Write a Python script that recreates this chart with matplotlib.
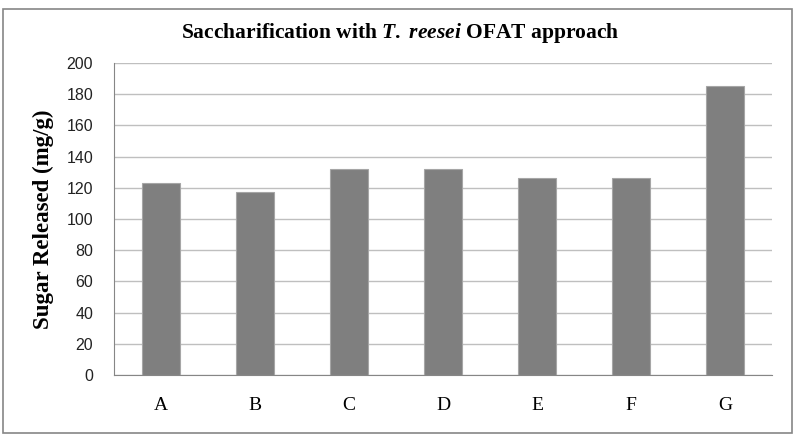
import matplotlib.pyplot as plt
from matplotlib.patches import Rectangle

plt.rcParams['mathtext.fontset'] = 'custom'
plt.rcParams['mathtext.it'] = 'Liberation Serif:italic:bold'
plt.rcParams['mathtext.rm'] = 'Liberation Serif:bold'

# Sugar released per condition (mg/g)
categories = ['A', 'B', 'C', 'D', 'E', 'F', 'G']
sugar = [123, 117, 132, 132, 126, 126, 185]
yticks = [0, 20, 40, 60, 80, 100, 120, 140, 160, 180, 200]

fig = plt.figure(figsize=(8, 4.43), dpi=100)
ax = fig.add_axes([0.1425, 0.1535, 0.8225, 0.7043])

ax.bar(categories, sugar, width=0.4, color='#7f7f7f', edgecolor='#a6a6a6',
       linewidth=0.8, zorder=3)

ax.set_ylim(0, 200)
ax.set_xlim(-0.5, len(categories) - 0.5)
ax.set_yticks(yticks)
ax.yaxis.grid(True, color='#bfbfbf', linewidth=1, zorder=0)
ax.tick_params(axis='both', length=0)
ax.tick_params(axis='y', pad=15)
ax.tick_params(axis='x', pad=16)
for lab in ax.get_yticklabels():
    lab.set_fontfamily('Liberation Sans')
    lab.set_fontsize(11.5)
    lab.set_color('#222222')
for lab in ax.get_xticklabels():
    lab.set_fontfamily('Liberation Serif')
    lab.set_fontsize(14)

for side in ['top', 'right']:
    ax.spines[side].set_visible(False)
ax.spines['left'].set_color('#868686')
ax.spines['bottom'].set_color('#868686')

ax.set_ylabel('Sugar Released (mg/g)', fontfamily='Liberation Serif',
              fontweight='bold', fontsize=16.5, labelpad=9)

fig.text(0.5, 1 - 33 / 443,
         r'Saccharification with $\mathit{T.}$ $\mathit{reesei}$ OFAT approach',
         ha='center', va='center', fontfamily='Liberation Serif',
         fontweight='bold', fontsize=15.5)

# outer chart border
fig.patches.append(Rectangle((3 / 800, 1 - 433 / 443), 789 / 800, 424 / 443,
                             transform=fig.transFigure, fill=False,
                             edgecolor='#868686', linewidth=1.2))

fig.savefig('out.png', dpi=100)
